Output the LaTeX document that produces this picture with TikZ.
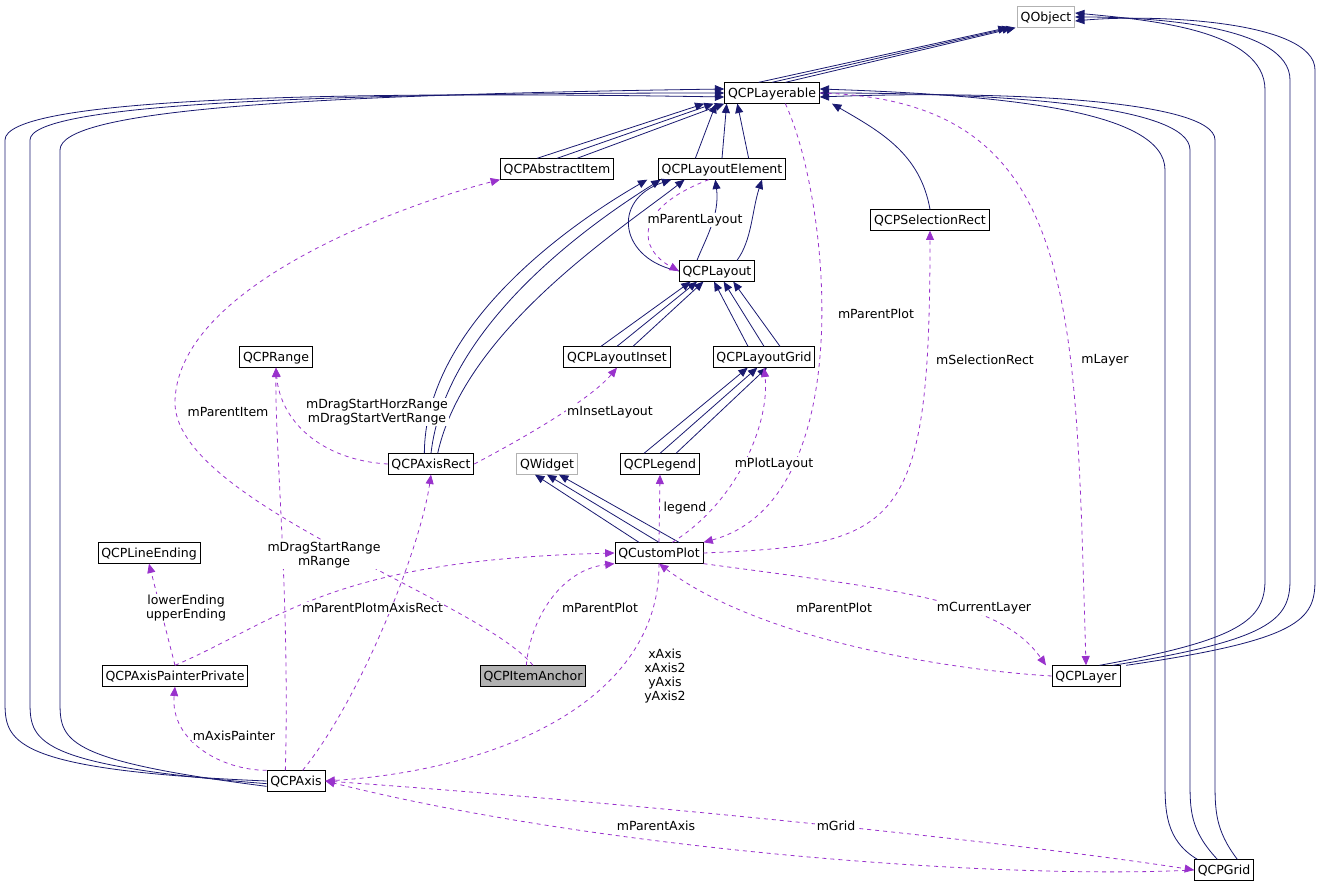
\documentclass[tikz,border=0pt]{standalone}
\usepackage{fontspec}
\setmainfont{DejaVu Sans}
\usetikzlibrary{arrows.meta}
\definecolor{navy}{RGB}{25,25,112}
\definecolor{orchid}{RGB}{153,50,204}
\begin{document}
\begin{tikzpicture}
[ x=0.75pt, y=-0.75pt, font=\fontsize{9.4}{10.4}\selectfont, line width=0.6pt
, cls/.style={rectangle, draw, inner sep=2.5pt, minimum height=13.5pt, text height=1.5ex, text depth=0.4ex}
, ext/.style={cls, draw=gray!60}
, inh/.style={navy, -{Triangle[length=7pt,width=6pt]}}
, use/.style={orchid, dashed, -{Triangle[length=7pt,width=6pt]}}
, lbl/.style={black, fill=white, inner sep=1pt, align=center}
]
\useasboundingbox (0,0) rectangle (1320,891);
% classes
\node (qobject) [ext] at (1046,17) {QObject};
\node (layerable) [cls] at (772,93) {QCPLayerable};
\node (abstractitem) [cls] at (557,169) {QCPAbstractItem};
\node (layoutelem) [cls] at (722,169) {QCPLayoutElement};
\node (selrect) [cls] at (930,220) {QCPSelectionRect};
\node (layout) [cls] at (717,271) {QCPLayout};
\node (range) [cls] at (276,357) {QCPRange};
\node (inset) [cls] at (617,357) {QCPLayoutInset};
\node (grid) [cls] at (764,357) {QCPLayoutGrid};
\node (axisrect) [cls] at (431,464) {QCPAxisRect};
\node (qwidget) [ext] at (547,464) {QWidget};
\node (legend) [cls] at (660,464) {QCPLegend};
\node (lineend) [cls] at (149,553) {QCPLineEnding};
\node (plot) [cls] at (659,553) {QCustomPlot};
\node (anchor) [cls, fill=gray!60] at (533,676) {QCPItemAnchor};
\node (painter) [cls] at (175,676) {QCPAxisPainterPrivate};
\node (layer) [cls] at (1086,676) {QCPLayer};
\node (axis) [cls] at (296,781) {QCPAxis};
\node (qgrid) [cls] at (1224,870) {QCPGrid};
% inheritance
\foreach \d in {-10,0,10}
  \draw [inh] ([xshift=\d]layerable.north) -- ([xshift=-4+\d*0.3]qobject.south west);
\draw [inh] ([xshift=-15]abstractitem.north) -- ([xshift=-15]layerable.south west);
\draw [inh] ([xshift=0]abstractitem.north) -- ([xshift=-8]layerable.south west);
\draw [inh] ([xshift=15]abstractitem.north) -- ([xshift=0]layerable.south west);
\foreach \d in {-20,0,20}
  \draw [inh] ([xshift=\d]layoutelem.north) -- ([xshift=-34+\d*0.4]layerable.south);
\draw [inh] (selrect.north) to[out=100,in=-30] ([xshift=45]layerable.south);
\draw [inh] ([yshift=-4]axis.west) .. controls (60,760) and (60,740) .. (60,700) -- (60,150) .. controls (60,110) and (300,95) .. ([yshift=3]layerable.west);
\draw [inh] ([yshift=-2]axis.west) .. controls (30,765) and (30,740) .. (30,700) -- (30,140) .. controls (30,105) and (300,93) .. ([yshift=0]layerable.west);
\draw [inh] (axis.west) .. controls (5,770) and (5,740) .. (5,700) -- (5,140) .. controls (5,100) and (300,90) .. ([yshift=-3]layerable.west);
\draw [inh] ([xshift=-20]qgrid.north) .. controls (1165,840) and (1165,810) .. (1165,780) -- (1165,170) .. controls (1165,110) and (1000,95) .. ([yshift=3]layerable.east);
\draw [inh] ([xshift=-5]qgrid.north) .. controls (1190,830) and (1190,810) .. (1190,780) -- (1190,150) .. controls (1190,105) and (1000,93) .. (layerable.east);
\draw [inh] ([xshift=10]qgrid.north) .. controls (1215,830) and (1215,810) .. (1215,780) -- (1215,140) .. controls (1215,100) and (1000,90) .. ([yshift=-3]layerable.east);
\draw [inh] ([xshift=10]layer.north) .. controls (1240,640) and (1265,620) .. (1265,580) -- (1265,90) .. controls (1265,30) and (1150,20) .. ([yshift=3]qobject.east);
\draw [inh] ([xshift=20]layer.north) .. controls (1270,640) and (1290,620) .. (1290,580) -- (1290,80) .. controls (1290,25) and (1150,17) .. (qobject.east);
\draw [inh] ([xshift=30]layer.north) .. controls (1300,640) and (1315,620) .. (1315,580) -- (1315,70) .. controls (1315,20) and (1150,14) .. ([yshift=-3]qobject.east);
\draw [inh] (layout.west) .. controls (620,260) and (610,200) .. ([xshift=10]layoutelem.south west);
\draw [inh] ([xshift=-15]layout.north) .. controls (705,240) and (720,215) .. ([xshift=-5]layoutelem.south);
\draw [inh] ([xshift=15]layout.north) .. controls (752,240) and (752,210) .. ([xshift=30]layoutelem.south);
\draw [inh] ([xshift=-5]axisrect.north) .. controls (425,330) and (560,230) .. ([xshift=-8]layoutelem.south west);
\draw [inh] (axisrect.north) .. controls (445,330) and (580,230) .. ([xshift=2]layoutelem.south west);
\draw [inh] ([xshift=5]axisrect.north) .. controls (465,330) and (620,230) .. ([xshift=20]layoutelem.south west);
\foreach \d in {-12,0,12}
  \draw [inh] ([xshift=\d]inset.north) -- ([xshift=-15+\d*0.4]layout.south);
\foreach \d in {-12,0,12}
  \draw [inh] ([xshift=\d]grid.north) -- ([xshift=5+\d*0.6]layout.south);
\foreach \d in {-12,0,12}
  \draw [inh] ([xshift=\d]legend.north) -- ([xshift=-5+\d*0.6]grid.south);
\foreach \d in {-15,0,15}
  \draw [inh] ([xshift=\d]plot.north) -- ([xshift=\d*0.6]qwidget.south);
% usage
\draw [use] (anchor.north) .. controls (480,600) and (170,500) .. (175,400)
  .. controls (180,280) and (420,200) .. (abstractitem.south west);
\node [lbl] at (228,412) {mParentItem};
\draw [use] ([xshift=10]layerable.south) .. controls (830,200) and (860,500) .. (plot.north east);
\node [lbl] at (876,314) {mParentPlot};
\draw [use] (plot.east) .. controls (900,545) and (930,530) .. (selrect.south);
\node [lbl] at (985,360) {mSelectionRect};
\draw [use] (layerable.east) .. controls (1080,100) and (1075,300) .. (layer.north);
\node [lbl] at (1105,360) {mLayer};
\draw [use] ([xshift=-10]layoutelem.south) .. controls (630,210) and (640,250) .. (layout.west);
\node [lbl] at (695,220) {mParentLayout};
\draw [use] (axisrect.west) .. controls (320,460) and (280,420) .. (range.south);
\node [lbl] at (377,412) {mDragStartHorzRange\\mDragStartVertRange};
\draw [use] (axisrect.east) .. controls (520,440) and (590,400) .. (inset.south);
\node [lbl] at (610,412) {mInsetLayout};
\draw [use] ([xshift=10]plot.north) .. controls (740,500) and (770,420) .. (grid.south);
\node [lbl] at (774,464) {mPlotLayout};
\draw [use] (plot.north) -- (legend.south);
\node [lbl] at (685,508) {legend};
\draw [use] (painter.north) -- (lineend.south);
\node [lbl] at (186,608) {lowerEnding\\upperEnding};
\draw [use] (painter.north) .. controls (280,620) and (330,560) .. (plot.west);
\node [lbl] at (340,608) {mParentPlot};
\draw [use] ([xshift=-8]axis.north) .. controls (290,600) and (275,450) .. (range.south);
\node [lbl] at (324,555) {mDragStartRange\\mRange};
\draw [use] ([xshift=5]axis.north) .. controls (360,700) and (420,550) .. (axisrect.south);
\node [lbl] at (410,608) {mAxisRect};
\draw [use] ([xshift=-5]anchor.north) .. controls (530,620) and (560,570) .. (plot.south west);
\node [lbl] at (600,608) {mParentPlot};
\draw [use] (plot.south) .. controls (660,700) and (500,770) .. (axis.east);
\node [lbl] at (665,676) {xAxis\\xAxis2\\yAxis\\yAxis2};
\draw [use] (layer.west) .. controls (950,670) and (760,640) .. (plot.south);
\node [lbl] at (834,608) {mParentPlot};
\draw [use] (plot.south east) .. controls (900,590) and (1000,600) .. ([xshift=-30]layer.north);
\node [lbl] at (984,608) {mCurrentLayer};
\draw [use] (axis.north west) .. controls (220,770) and (170,740) .. (painter.south);
\node [lbl] at (234,736) {mAxisPainter};
\draw [use] (axis.east) .. controls (600,800) and (1000,840) .. (qgrid.west);
\node [lbl] at (836,826) {mGrid};
\draw [use] (qgrid.west) .. controls (1000,880) and (600,850) .. (axis.east);
\node [lbl] at (656,826) {mParentAxis};
\end{tikzpicture}
\end{document}
